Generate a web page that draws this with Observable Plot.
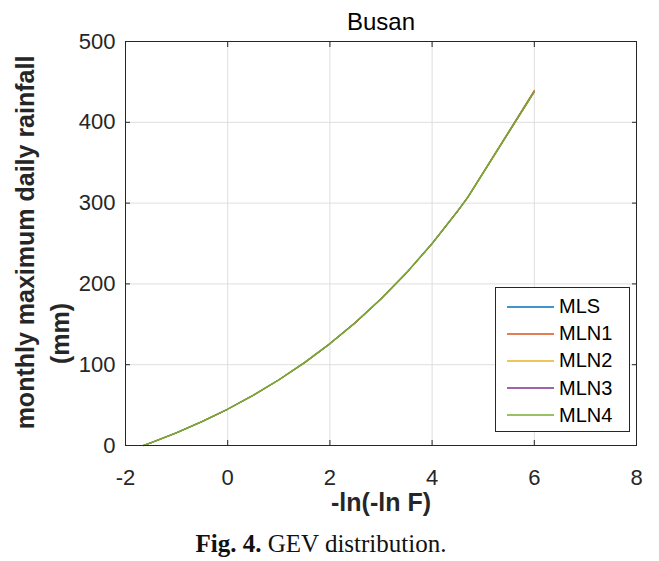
<!DOCTYPE html>
<html>
<head>
<meta charset="utf-8">
<script src="https://cdn.jsdelivr.net/npm/d3@7"></script>
<script src="https://cdn.jsdelivr.net/npm/@observablehq/plot@0.6"></script>
<style>
  html, body { margin: 0; padding: 0; background: #fff; }
  #wrap { position: relative; width: 659px; height: 561px; overflow: hidden; }
  #legend { position: absolute; left: 495px; top: 287px; width: 133px; height: 143px;
    border: 1px solid #262626; background: #fff; box-sizing: content-box;
    font-family: "Liberation Sans", Arial, sans-serif; font-size: 20px; color: #000; }
  .row { position: absolute; left: 0; height: 27px; display: flex; align-items: center; }
  .row svg { margin-left: 11px; margin-right: 5px; display: block; }
  #caption { position: absolute; left: 0; top: 531px; width: 642px; text-align: center;
    font-family: "Liberation Serif", "DejaVu Serif", serif; font-size: 25px; line-height: 25px; color: #111; }
</style>
</head>
<body>
<div id="wrap">
  <div id="chart"></div>
  <div id="legend"></div>
  <div id="caption"><b>Fig. 4.</b> GEV distribution.</div>
</div>
<script>
// ---- data ----
const seriesNames = ["MLS", "MLN1", "MLN2", "MLN3", "MLN4"];
const seriesColors = ["#0072BD", "#D95319", "#EDB120", "#7E2F8E", "#77AC30"];
const reducedVariate = [-1.65, -1.5, -1, -0.5, 0, 0.5, 1, 1.5, 2, 2.5, 3, 3.5, 4, 4.5, 4.7, 6];
const MLS  = [0, 3.3, 15.7, 29.6, 45, 62.2, 81.2, 102.4, 126, 152.2, 181.4, 213.8, 249.9, 290.1, 307.3, 438];
const MLN1 = [0, 3.3, 15.7, 29.6, 45, 62.2, 81.2, 102.4, 126, 152.2, 181.4, 213.8, 250.0, 290.4, 307.8, 439.5];
const MLN2 = [0, 3.3, 15.7, 29.6, 45, 62.2, 81.2, 102.4, 126, 152.2, 181.4, 213.8, 249.9, 290.1, 307.3, 438];
const MLN3 = [0, 3.3, 15.7, 29.6, 45, 62.2, 81.2, 102.4, 126, 152.2, 181.4, 213.8, 249.9, 290.1, 307.3, 438];
const MLN4 = [0, 3.3, 15.7, 29.6, 45, 62.2, 81.2, 102.4, 126, 152.2, 181.4, 213.8, 249.9, 290.1, 307.3, 438];
const xTicks = [-2, 0, 2, 4, 6, 8];
const yTicks = [0, 100, 200, 300, 400, 500];
const titleText = "Busan";
const xLabel = "-ln(-ln F)";
const yLabel1 = "monthly maximum daily rainfall";
const yLabel2 = "(mm)";

const seriesValues = [MLS, MLN1, MLN2, MLN3, MLN4];
const rows = [];
seriesNames.forEach((name, s) => {
  reducedVariate.forEach((x, i) => rows.push({series: name, x, y: seriesValues[s][i]}));
});
const lowerRows = rows.filter(d => d.series !== "MLN4");
const topRows = rows.filter(d => d.series === "MLN4");

const axisColor = "#262626";
const chart = Plot.plot({
  width: 659,
  height: 520,
  marginLeft: 125,
  marginRight: 23,
  marginTop: 41,
  marginBottom: 75,
  style: {fontFamily: "'Liberation Sans', Arial, sans-serif", fontSize: "22px", color: axisColor, background: "#fff", overflow: "visible"},
  x: {domain: [-2, 8]},
  y: {domain: [0, 500]},
  color: {domain: seriesNames, range: seriesColors},
  marks: [
    Plot.gridX(xTicks, {stroke: "#dedede", strokeOpacity: 1}),
    Plot.gridY(yTicks, {stroke: "#dedede", strokeOpacity: 1}),
    Plot.axisX(xTicks, {anchor: "bottom", tickSize: -5, tickPadding: 29, label: null, tickFormat: d => String(d), fontSize: 22, stroke: axisColor, fill: axisColor}),
    Plot.axisX(xTicks, {anchor: "top", tickSize: -5, label: null, tickFormat: () => "", stroke: axisColor}),
    Plot.axisY(yTicks, {anchor: "left", tickSize: -5, tickPadding: 15, label: null, tickFormat: d => String(d), fontSize: 22, stroke: axisColor, fill: axisColor}),
    Plot.axisY(yTicks, {anchor: "right", tickSize: -5, label: null, tickFormat: () => "", stroke: axisColor}),
    Plot.line(lowerRows, {x: "x", y: "y", stroke: "series", z: "series", strokeWidth: 1.1}),
    Plot.line(topRows, {x: "x", y: "y", stroke: "series", z: "series", strokeWidth: 1.6}),
    Plot.frame({stroke: axisColor, strokeWidth: 1}),
    Plot.text([titleText], {text: d => d, frameAnchor: "top", dy: -12, lineAnchor: "bottom", fontSize: 24, fill: "#000"}),
    Plot.text([xLabel], {text: d => d, frameAnchor: "bottom", dy: 65, lineAnchor: "bottom", fontSize: 25, fontWeight: "bold", fill: axisColor}),
    Plot.text([yLabel1], {text: d => d, frameAnchor: "left", textAnchor: "middle", dx: -92, dy: -1, rotate: -90, lineAnchor: "bottom", fontSize: 25, fontWeight: "bold", fill: axisColor}),
    Plot.text([yLabel2], {text: d => d, frameAnchor: "left", textAnchor: "middle", dx: -57, dy: 90, rotate: -90, lineAnchor: "bottom", fontSize: 25, fontWeight: "bold", fill: axisColor})
  ]
});
document.getElementById("chart").appendChild(chart);

// legend (HTML overlay)
const legend = document.getElementById("legend");
const svgNS = "http://www.w3.org/2000/svg";
seriesNames.forEach((name, i) => {
  const row = document.createElement("div");
  row.className = "row";
  row.style.top = (5 + i * 27.2) + "px";
  const sw = document.createElementNS(svgNS, "svg");
  sw.setAttribute("width", "47");
  sw.setAttribute("height", "4");
  const ln = document.createElementNS(svgNS, "line");
  ln.setAttribute("x1", "0"); ln.setAttribute("x2", "47");
  ln.setAttribute("y1", "2"); ln.setAttribute("y2", "2");
  ln.setAttribute("stroke", seriesColors[i]);
  ln.setAttribute("stroke-width", "1.3");
  sw.appendChild(ln);
  const label = document.createElement("span");
  label.textContent = name;
  row.appendChild(sw);
  row.appendChild(label);
  legend.appendChild(row);
});
</script>
</body>
</html>
